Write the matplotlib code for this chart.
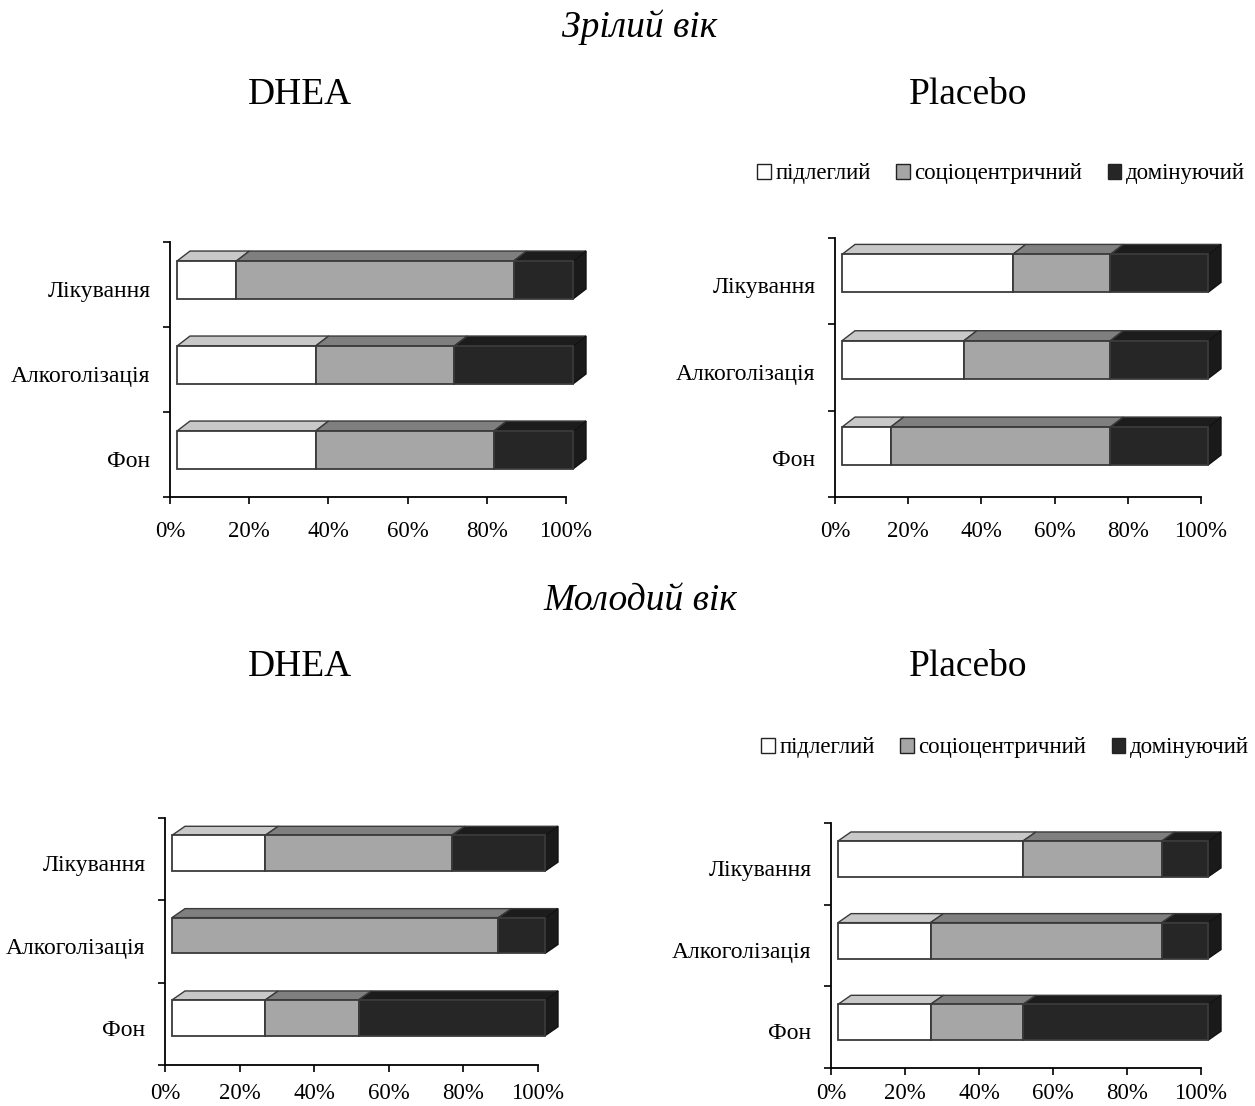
import matplotlib
matplotlib.use("Agg")
import matplotlib.pyplot as plt
from matplotlib.patches import Polygon, Patch
import numpy as np

plt.rcParams['font.family'] = ['Liberation Serif', 'DejaVu Serif']

categories = ["Фон", "Алкоголізація", "Лікування"]
series_names = ["підлеглий", "соціоцентричний", "домінуючий"]
x_ticks = [0, 20, 40, 60, 80, 100]
x_tick_labels = ["0%", "20%", "40%", "60%", "80%", "100%"]

# values per category (Фон, Алкоголізація, Лікування) for each series
mature_dhea_sub = [35, 35, 15]
mature_dhea_soc = [45, 35, 70]
mature_dhea_dom = [20, 30, 15]

mature_plac_sub = [13.3, 33.3, 46.7]
mature_plac_soc = [60.0, 40.0, 26.7]
mature_plac_dom = [26.7, 26.7, 26.7]

young_dhea_sub = [25, 0, 25]
young_dhea_soc = [25, 87.5, 50]
young_dhea_dom = [50, 12.5, 25]

young_plac_sub = [25, 25, 50]
young_plac_soc = [25, 62.5, 37.5]
young_plac_dom = [50, 12.5, 12.5]

W, H = 1255, 1106
fig = plt.figure(figsize=(W / 100, H / 100), dpi=100)

front_cols = ["#ffffff", "#a6a6a6", "#262626"]
top_cols = ["#c8c8c8", "#7f7f7f", "#1c1c1c"]
side_col = "#1a1a1a"
edge = "#3a3a3a"


def px_axes(l, r, t, b):
    return fig.add_axes([l / W, (H - b) / H, (r - l) / W, (b - t) / H])


def draw_panel(ax, l, r, t, b, sub, soc, dom, face_lo, face_hi, depth_px=10, xpad=12):
    ax.set_xlim(0, 100)
    ax.set_ylim(0, 3)
    wpx = r - l
    hpx = b - t
    ux = 100 / wpx
    uy = 3 / hpx
    dx = 13 * ux
    dy = depth_px * uy
    off = 7 * ux
    data = np.array([sub, soc, dom], dtype=float)
    for i in range(len(categories)):
        vals = data[:, i]
        vals = vals / vals.sum() * 100
        yb = i + face_lo
        yt = i + face_hi
        left = 0.0
        nz = [k for k in range(3) if vals[k] > 0]
        last = nz[-1]
        for k in range(3):
            v = vals[k]
            if v <= 0:
                continue
            x0 = left + off
            x1 = left + v + off
            front = Polygon([(x0, yb), (x1, yb), (x1, yt), (x0, yt)], closed=True,
                            facecolor=front_cols[k], edgecolor=edge, lw=1.3, clip_on=False, zorder=3)
            top = Polygon([(x0, yt), (x1, yt), (x1 + dx, yt + dy), (x0 + dx, yt + dy)], closed=True,
                          facecolor=top_cols[k], edgecolor=edge, lw=1.0, clip_on=False, zorder=2)
            ax.add_patch(top)
            ax.add_patch(front)
            if k == last:
                side = Polygon([(x1, yb), (x1 + dx, yb + dy), (x1 + dx, yt + dy), (x1, yt)], closed=True,
                               facecolor=side_col, edgecolor="#111111", lw=1.0, clip_on=False, zorder=2)
                ax.add_patch(side)
            left += v
    for s in ["top", "right"]:
        ax.spines[s].set_visible(False)
    ax.spines["left"].set_linewidth(1.3)
    ax.spines["bottom"].set_linewidth(1.3)
    ax.set_yticks([0, 1, 2, 3])
    ax.set_yticklabels([])
    ax.set_yticks([i + 0.45 for i in range(3)], minor=True)
    ax.set_yticklabels(categories, minor=True, fontsize=17)
    ax.tick_params(axis="y", which="minor", length=0, pad=14)
    ax.tick_params(axis="y", which="major", length=5, width=1.2, direction="out")
    ax.set_xticks(x_ticks)
    ax.set_xticklabels(x_tick_labels, fontsize=16.5)
    ax.tick_params(axis="x", length=5, width=1.2, direction="out", pad=xpad)
    ax.patch.set_alpha(0)


ax1 = px_axes(170, 566, 242, 497)
draw_panel(ax1, 170, 566, 242, 497, mature_dhea_sub, mature_dhea_soc, mature_dhea_dom, 0.33, 0.776)
ax2 = px_axes(835, 1201, 238, 497)
draw_panel(ax2, 835, 1201, 238, 497, mature_plac_sub, mature_plac_soc, mature_plac_dom, 0.37, 0.81)
ax3 = px_axes(165, 538, 818, 1065)
draw_panel(ax3, 165, 538, 818, 1065, young_dhea_sub, young_dhea_soc, young_dhea_dom, 0.355, 0.79,
           depth_px=9, xpad=8)
ax4 = px_axes(831, 1201, 823, 1068)
draw_panel(ax4, 831, 1201, 823, 1068, young_plac_sub, young_plac_soc, young_plac_dom, 0.34, 0.78,
           depth_px=9, xpad=6)


def ftext(x, y, s, **kw):
    fig.text(x / W, 1 - y / H, s, ha="center", va="center", **kw)


ftext(640, 27, "Зрілий вік", fontsize=27, style="italic")
ftext(300, 95, "DHEA", fontsize=27)
ftext(968, 95, "Placebo", fontsize=27)
ftext(640, 601, "Молодий вік", fontsize=27, style="italic")
ftext(300, 667, "DHEA", fontsize=27)
ftext(968, 667, "Placebo", fontsize=27)

handles = [Patch(facecolor=front_cols[k], edgecolor="#222222", lw=1.0, label=series_names[k]) for k in range(3)]
for cx, cy in [(1001, 174), (1005, 748)]:
    fig.legend(handles=handles, loc="center", bbox_to_anchor=(cx / W, 1 - cy / H), ncol=3,
               frameon=False, fontsize=16.5, handlelength=0.6, handleheight=0.6,
               handletextpad=0.2, columnspacing=1.1)

fig.savefig("out.png", dpi=100)
